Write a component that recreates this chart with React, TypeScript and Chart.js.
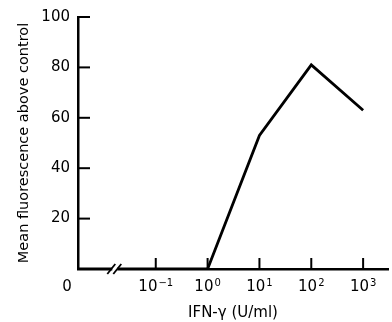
import React, { useEffect, useRef } from "react";
import { Chart, registerables } from "chart.js";

Chart.register(...registerables);

// Data (x = log10 of IFN-γ dose; the zero dose sits at the axis start)
const doseLabels = ["0", "10⁻¹", "10⁰", "10¹", "10²", "10³"];
const doseLog = [-2.5, -1, 0, 1, 2, 3];
const fluorescence = [0, 0, 0, 53, 81, 63];
const xTickValues = [-1, 0, 1, 2, 3];
const xTickBase = "10";
const xTickExponents = ["-1", "0", "1", "2", "3"];
const yTickValues = [0, 20, 40, 60, 80, 100];

const FONT = "'DejaVu Sans', 'Liberation Sans', sans-serif";

const decorPlugin = {
  id: "decor",
  afterDraw(chart: any) {
    const ctx = chart.ctx;
    const xs = chart.scales.x;
    const ys = chart.scales.y;
    const base = ys.getPixelForValue(0);
    const left = xs.left;
    ctx.save();
    ctx.strokeStyle = "#000";
    ctx.lineWidth = 2;
    // inside tick marks on y
    yTickValues.forEach((v) => {
      if (v === 0) return;
      const y = ys.getPixelForValue(v);
      ctx.beginPath();
      ctx.moveTo(left, y);
      ctx.lineTo(left + 12, y);
      ctx.stroke();
    });
    // inside tick marks on x
    xTickValues.forEach((v) => {
      const x = xs.getPixelForValue(v);
      ctx.beginPath();
      ctx.moveTo(x, base);
      ctx.lineTo(x, base - 11);
      ctx.stroke();
    });
    // axis break "//"
    const bx = xs.getPixelForValue(-1.8);
    ctx.fillStyle = "#fff";
    ctx.fillRect(bx - 2, base - 3, 5, 6);
    ctx.lineWidth = 1.8;
    [-3, 3].forEach((dx) => {
      ctx.beginPath();
      ctx.moveTo(bx + dx - 4, base + 5);
      ctx.lineTo(bx + dx + 4, base - 5);
      ctx.stroke();
    });
    // tick labels on x: "10" with superscript exponent
    ctx.fillStyle = "#000";
    ctx.textBaseline = "alphabetic";
    ctx.textAlign = "left";
    const ly = base + 22;
    xTickValues.forEach((v, i) => {
      const x = xs.getPixelForValue(v);
      ctx.font = `15px ${FONT}`;
      const w1 = ctx.measureText(xTickBase).width;
      ctx.font = `10px ${FONT}`;
      const exp = xTickExponents[i].replace("-", "−");
      const w2 = ctx.measureText(exp).width;
      const x0 = x - (w1 + w2 + 1) / 2;
      ctx.font = `15px ${FONT}`;
      ctx.fillText(xTickBase, x0, ly);
      ctx.font = `10px ${FONT}`;
      ctx.fillText(exp, x0 + w1 + 1, ly - 5);
    });
    // "0" dose label
    ctx.font = `15px ${FONT}`;
    ctx.textAlign = "center";
    ctx.fillText(doseLabels[0], left - 11, ly);
    ctx.restore();
  },
};

export default function App() {
  const ref = useRef<HTMLCanvasElement | null>(null);
  useEffect(() => {
    if (!ref.current) return;
    const chart = new Chart(ref.current, {
      type: "line",
      data: {
        datasets: [
          {
            data: doseLog.map((x, i) => ({ x, y: fluorescence[i] })),
            borderColor: "#000",
            borderWidth: 2.8,
            pointRadius: 0,
            tension: 0,
            fill: false,
          },
        ],
      },
      plugins: [decorPlugin],
      options: {
        animation: false,
        responsive: false,
        maintainAspectRatio: false,
        layout: { padding: { left: 0, right: 4, top: 15, bottom: 0 } },
        plugins: { legend: { display: false }, tooltip: { enabled: false } },
        scales: {
          x: {
            type: "linear",
            min: -2.5,
            max: 3.48,
            grid: { display: false, drawTicks: false },
            border: { display: true, color: "#000", width: 2.5 },
            afterBuildTicks: (s: any) => {
              s.ticks = xTickValues.map((v) => ({ value: v }));
            },
            afterFit: (s: any) => {
              s.height = 53;
            },
            ticks: { display: false },
            title: {
              display: true,
              text: "IFN-γ (U/ml)",
              color: "#000",
              font: { family: FONT, size: 15 },
              padding: { top: 0, bottom: 0 },
            },
          },
          y: {
            min: 0,
            max: 100,
            grid: { display: false, drawTicks: false },
            border: { display: true, color: "#000", width: 2.5 },
            afterBuildTicks: (s: any) => {
              s.ticks = yTickValues.map((v) => ({ value: v }));
            },
            afterFit: (s: any) => {
              s.width = 78;
            },
            ticks: {
              color: "#000",
              padding: 8,
              font: { family: FONT, size: 15 },
              callback: (v: any) => (v === 0 ? "" : String(v)),
            },
            title: {
              display: true,
              text: "Mean fluorescence above control",
              color: "#000",
              font: { family: FONT, size: 14.5 },
              padding: { top: 16, bottom: 0 },
            },
          },
        },
      },
    });
    return () => chart.destroy();
  }, []);
  return (
    <div style={{ position: "fixed", left: 0, top: 0, width: 392, height: 322, background: "#fff" }}>
      <canvas ref={ref} width={392} height={322} />
    </div>
  );
}
